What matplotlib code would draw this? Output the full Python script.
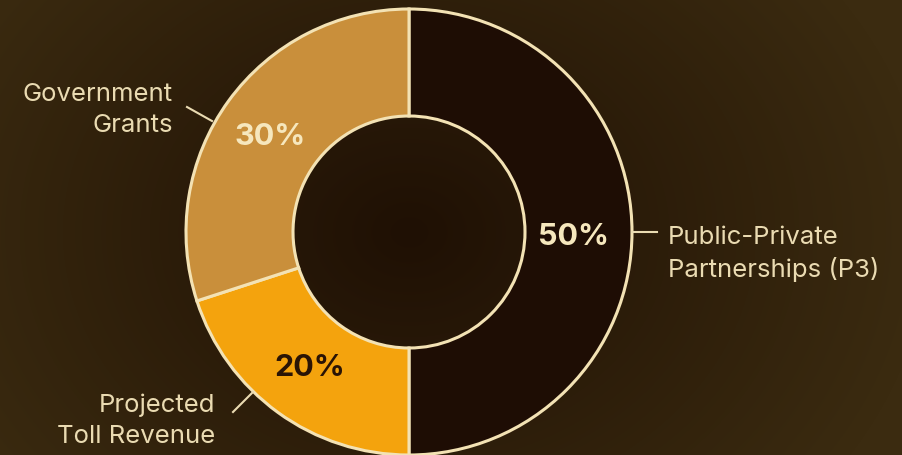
import numpy as np
import matplotlib.pyplot as plt

W, H = 902, 456

# data (clockwise from 12 o'clock)
labels = ['Public-Private\nPartnerships (P3)', 'Projected\nToll Revenue', 'Government\nGrants']
shares = [50, 20, 30]
colors = ['#1e0d04', '#f4a30d', '#c98f3b']
pct_colors = ['#f6e7bd', '#2a1405', '#f6e7bd']

cx, cy = 409, 233   # centre in pixel coords (y from top)
r_out, r_in = 223, 116

fig = plt.figure(figsize=(W / 100, H / 100), dpi=100)
ax = fig.add_axes([0, 0, 1, 1])

# background with a soft radial vignette
yy, xx = np.mgrid[0:H, 0:W]
d = np.sqrt(((xx - cx) / 520.) ** 2 + ((yy - cy) / 420.) ** 2)
d = np.clip(d, 0, 1)
c0 = np.array([0x1f, 0x10, 0x04]) / 255.
c1 = np.array([0x3b, 0x2b, 0x10]) / 255.
bg = c0[None, None, :] * (1 - d[..., None]) + c1[None, None, :] * d[..., None]
ax.imshow(bg, extent=[0, W, 0, H], origin='upper', zorder=0)

def fy(y):
    return H - y

ax.pie(shares, colors=colors, startangle=90, counterclock=False,
       center=(cx, fy(cy)), radius=r_out,
       wedgeprops=dict(width=r_out - r_in, edgecolor='#f3e2b4', linewidth=2.2))

fam = ['Inter', 'DejaVu Sans']

# percentage labels
pct_pos = [(574, 237), (310, 368), (270, 137)]
for v, (px, py), c in zip(shares, pct_pos, pct_colors):
    ax.text(px, fy(py), f'{v}%', color=c, fontsize=22, fontweight='bold',
            family=fam, ha='center', va='center', zorder=5)

# outside labels with leader lines
txt_c = '#eadbb2'
fs = 18.5
ax.plot([632, 657], [fy(233), fy(233)], color=txt_c, lw=1.5, zorder=5)
ax.text(668, fy(254), labels[0], color=txt_c, fontsize=fs, ha='left', va='center',
        family=fam, linespacing=1.45)
ax.plot([233, 253], [fy(413), fy(393)], color=txt_c, lw=1.5, zorder=5)
ax.text(215, fy(421), labels[1], color=txt_c, fontsize=fs, ha='right', va='center',
        family=fam, linespacing=1.45, multialignment='right')
ax.plot([187, 212], [fy(108), fy(122)], color=txt_c, lw=1.5, zorder=5)
ax.text(173, fy(110), labels[2], color=txt_c, fontsize=fs, ha='right', va='center',
        family=fam, linespacing=1.45, multialignment='right')

ax.set_xlim(0, W)
ax.set_ylim(0, H)
ax.set_aspect('auto')
ax.axis('off')

fig.savefig('out.png', dpi=100)
